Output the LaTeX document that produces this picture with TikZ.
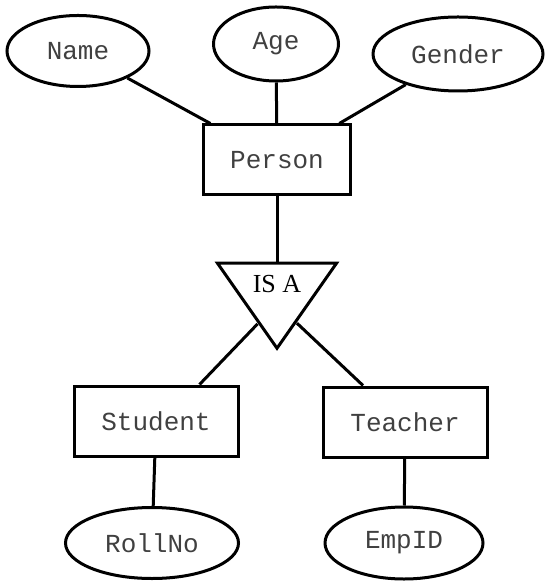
\documentclass[tikz,border=0pt]{standalone}
\usepackage{fontspec}
\usepackage{tikz}
\usetikzlibrary{shapes.geometric, positioning}
\setmainfont{Liberation Serif}
\newfontfamily\ermono{Liberation Mono}

\begin{document}
\begin{tikzpicture}[
    x=0.5pt, y=-0.5pt, % pixel grid, y downwards
    line width=1.5pt,
    node font=\fontsize{13pt}{15pt}\ermono,
    attr/.style={draw, ellipse, inner sep=0pt, text=black!75},
    entity/.style={draw, rectangle, inner sep=0pt, text=black!75, minimum width=82pt, minimum height=35pt},
    isatri/.style={draw, isosceles triangle, isosceles triangle stretches, shape border rotate=270,
                   inner sep=0pt, minimum width=59.5pt, minimum height=42.5pt,
                   font=\fontsize{13pt}{15pt}\rmfamily}
]
  \useasboundingbox (0,0) rectangle (544,581);

  % --- SUPERCLASS ---
  \node[entity, minimum width=73.5pt] (person) at (277,160) {Person};
  \node[attr, minimum width=71pt, minimum height=35.5pt] (name) at (78,51) {Name};
  \node[attr, minimum width=62.5pt, minimum height=37pt] (age) at (276,44) {Age};
  \node[attr, minimum width=85pt, minimum height=37pt] (gender) at (458,54) {Gender};

  \draw (name) -- (person);
  \draw (age) -- (person);
  \draw (gender) -- (person);

  % --- SPECIALISATION ---
  \node[isatri] (isa) at (277,284) {IS A};
  \draw (person) -- (isa);

  % --- SUBCLASSES ---
  \node[entity] (student) at (156,421) {Student};
  \node[entity] (teacher) at (405,422) {Teacher};
  \node[attr, minimum width=86.5pt, minimum height=35.5pt] (rollno) at (152,543) {RollNo};
  \node[attr, minimum width=79pt, minimum height=36pt] (empid) at (404,543) {EmpID};

  \draw (isa.244) -- (student.40);
  \draw (isa.297) -- (teacher.139);
  \draw (student) -- (rollno);
  \draw (teacher) -- (empid);

\end{tikzpicture}
\end{document}
